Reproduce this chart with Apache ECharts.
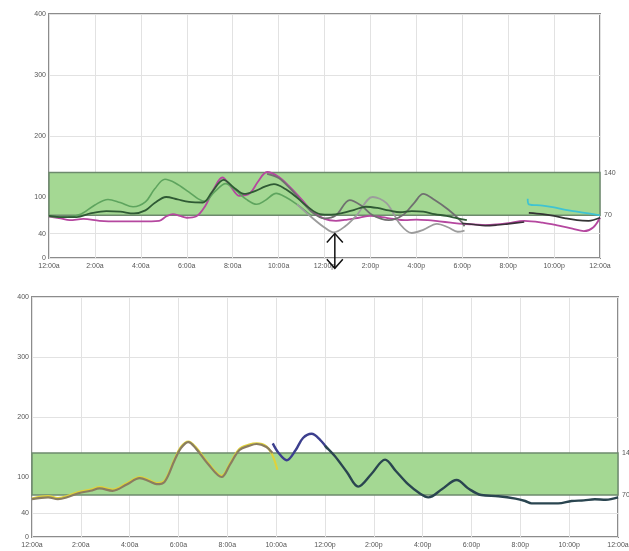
<!DOCTYPE html>
<html>
<head>
<meta charset="utf-8">
<script src="https://cdn.jsdelivr.net/npm/echarts@6/dist/echarts.min.js"></script>
<style>
html,body{margin:0;padding:0;background:#fff;}
#c{width:629px;height:551px;}
</style>
</head>
<body>
<div id="c"></div>
<script>
// ---- data ----
const hourLabels = ['12:00a','2:00a','4:00a','6:00a','8:00a','10:00a','12:00p','2:00p','4:00p','6:00p','8:00p','10:00p','12:00a'];
const yTicks = [0, 40, 100, 200, 300, 400];
const targetLow = 70;
const targetHigh = 140;
const arrowHour = 12.45;
const arrowRange = [40, -17];

const topPink = [[0,68],[0.5,65],[0.9,62],[1.5,64],[2.2,61],[3,60],[4,60],[4.8,61],[5.1,68],[5.4,72],[5.7,69],[6,66],[6.4,68],[6.8,85],[7.2,115],[7.55,132],[7.9,118],[8.3,102],[8.75,106],[9.1,125],[9.5,141],[10,133],[10.5,116],[11,96],[11.5,76],[12,64],[12.5,61],[13,63],[13.5,66],[14,69],[14.5,67],[15,64],[15.5,62],[16,63],[16.5,62],[17,60],[17.5,58],[18,56],[18.5,55],[19,54],[19.5,55],[20,57],[20.7,61],[21.5,58],[22.2,53],[22.8,48],[23.3,44],[23.7,50],[24,66]];
const topDarkGreen = [[0,69],[0.6,67],[1.2,67],[1.8,73],[2.5,77],[3.1,76],[3.7,73],[4.2,78],[4.6,90],[5.1,100],[5.6,96],[6.1,92],[6.7,91],[7.1,108],[7.6,128],[8.1,114],[8.5,105],[9,110],[9.4,117],[9.8,121],[10.3,113],[10.8,99],[11.3,83],[11.8,72],[12.3,71],[12.8,74],[13.3,79],[13.8,84],[14.3,82],[14.8,78],[15.3,75],[15.8,77],[16.3,76],[16.8,72],[17.3,69],[17.8,65],[18.2,62]];
const topGreen = [[0,68],[0.8,67],[1.4,72],[2,87],[2.57,96],[3.1,91],[3.66,84],[4.2,92],[4.6,113],[5.05,129],[5.5,123],[6.1,108],[6.5,97],[6.8,93],[7.2,108],[7.7,122],[8.1,112],[8.6,96],[9.05,88],[9.4,94],[9.9,106],[10.3,100],[10.8,88],[11.4,70]];
const topLightGray = [[10.8,88],[11.4,68],[12,50],[12.4,42],[12.9,52],[13.4,70],[14.1,100],[14.7,90],[15.3,55],[15.8,41],[16.3,46],[16.9,56],[17.4,50],[17.8,43],[18.1,45]];
const topDarkGray = [[9.5,138],[10,131],[10.5,114],[11,93],[11.5,74],[12,65],[12.5,70],[13.1,95],[13.6,86],[14.1,70],[14.8,62],[15.4,70],[15.9,90],[16.3,105],[16.8,95],[17.4,79],[17.9,62],[18.1,52]];
const topEvening = [[18,57],[18.5,55],[19,53],[19.5,54],[20,56],[20.7,59]];
const topCyan = [[20.85,97],[20.9,88],[21.5,86],[22,83],[22.5,79],[23,76],[23.5,73],[24,70]];
const topBlack = [[20.9,74],[21.5,72],[22,69],[22.5,65],[23,62],[23.5,61],[24,66]];

const bottomYellow = [[0,64],[0.66,68],[1.06,65],[1.5,69],[1.9,75],[2.4,79],[2.77,83],[3.3,79],[3.9,90],[4.41,100],[4.8,95],[5.1,90],[5.43,94],[5.84,130],[6.1,150],[6.4,159],[6.7,150],[7.2,124],[7.77,102],[8.1,122],[8.5,147],[8.9,154],[9.2,156],[9.6,151],[9.85,136],[10.05,112]];
const bottomTan = [[0,63],[0.66,66],[1.06,63],[1.5,67],[1.9,73],[2.4,77],[2.77,81],[3.3,77],[3.9,88],[4.41,98],[4.8,93],[5.1,88],[5.43,92],[5.84,128],[6.1,148],[6.4,158],[6.7,148],[7.2,122],[7.77,100],[8.1,120],[8.5,145],[8.9,152],[9.2,155],[9.6,150],[9.85,140]];
const bottomNavy = [[9.86,156],[10.1,140],[10.43,128],[10.8,145],[11.1,165],[11.45,172],[11.8,162],[12.1,147]];
const bottomDark = [[12.0,152],[12.4,135],[12.9,108],[13.36,84],[13.9,105],[14.46,129],[14.9,110],[15.4,88],[15.9,72],[16.23,66],[16.8,80],[17.39,95],[17.9,80],[18.4,70],[19.1,68],[19.8,64],[20.2,60],[20.46,56],[21,56],[21.55,56],[22.1,60],[22.6,61],[23.05,63],[23.5,62],[24,66]];

// ---- chart ----
const chart = echarts.init(document.getElementById('c'), null, {renderer: 'canvas'});
const labelStyle = {color: '#555', fontSize: 7, fontFamily: 'Liberation Sans, Arial, sans-serif'};

function xAxis(gi) {
  return {
    type: 'value', gridIndex: gi, min: 0, max: 24, interval: 2,
    axisLine: {show: false}, axisTick: {show: false},
    splitLine: {show: true, lineStyle: {color: '#e2e2e2', width: 1}},
    axisLabel: Object.assign({margin: 5, formatter: v => hourLabels[Math.round(v / 2)]}, labelStyle)
  };
}
function yAxisLeft(gi) {
  return {
    type: 'value', gridIndex: gi, min: 0, max: 400, position: 'left',
    axisLine: {show: false},
    axisTick: {show: false, customValues: yTicks},
    splitLine: {show: true, lineStyle: {color: '#e2e2e2', width: 1}},
    axisLabel: Object.assign({margin: 3, customValues: yTicks}, labelStyle)
  };
}
function yAxisRight(gi) {
  return {
    type: 'value', gridIndex: gi, min: 0, max: 400, position: 'right',
    axisLine: {show: false}, axisTick: {show: false, customValues: [targetLow, targetHigh]},
    splitLine: {show: false},
    axisLabel: Object.assign({margin: 4, customValues: [targetLow, targetHigh]}, labelStyle)
  };
}
function line(data, color, width, xi, yi, extra) {
  return Object.assign({
    type: 'line', data: data, xAxisIndex: xi, yAxisIndex: yi,
    smooth: 0.35, symbol: 'none', silent: true,
    lineStyle: {color: color, width: width}
  }, extra || {});
}
function band() {
  return {
    silent: true,
    itemStyle: {color: '#a4d893', borderColor: '#6d8a6d', borderWidth: 1.5},
    data: [[{yAxis: targetLow}, {yAxis: targetHigh}]]
  };
}

const option = {
  animation: false,
  backgroundColor: '#ffffff',
  grid: [
    {left: 49, top: 14, right: 29, bottom: 293, outerBoundsMode: 'none', containLabel: false, show: true, borderColor: '#8c8c8c', borderWidth: 2, backgroundColor: 'transparent'},
    {left: 32, top: 297, right: 11, bottom: 14, outerBoundsMode: 'none', containLabel: false, show: true, borderColor: '#8c8c8c', borderWidth: 2, backgroundColor: 'transparent'}
  ],
  xAxis: [xAxis(0), xAxis(1)],
  yAxis: [yAxisLeft(0), yAxisRight(0), yAxisLeft(1), yAxisRight(1)],
  series: [
    line(topPink, '#b5479f', 1.8, 0, 0, {markArea: band(), z: 3}),
    line(topGreen, '#5ea45e', 1.6, 0, 0),
    line(topLightGray, '#9c9c9c', 1.8, 0, 0),
    line(topDarkGray, '#707070', 1.8, 0, 0),
    line(topDarkGreen, '#2f5a34', 1.8, 0, 0),
    line(topEvening, '#3a2f3a', 1.6, 0, 0),
    line(topCyan, '#3fc3d2', 1.8, 0, 0),
    line(topBlack, '#343434', 1.8, 0, 0),
    line(bottomYellow, '#e0d23a', 2.2, 1, 2, {markArea: band()}),
    line(bottomTan, '#8a7d60', 2.2, 1, 2),
    line(bottomNavy, '#3c3f8e', 2.4, 1, 2),
    line(bottomDark, '#2a4550', 2.4, 1, 2)
  ]
};
chart.setOption(option);

// double-headed annotation arrow placed via data->pixel conversion
const pTop = chart.convertToPixel({gridIndex: 0}, [arrowHour, arrowRange[0]]);
const pBot = chart.convertToPixel({gridIndex: 0}, [arrowHour, arrowRange[1]]);
const hw = 8, hh = 9;
const st = {stroke: '#111', lineWidth: 1.5, fill: null};
chart.setOption({
  graphic: [
    {type: 'polyline', shape: {points: [pTop, pBot]}, style: st, z: 100},
    {type: 'polyline', shape: {points: [[pTop[0] - hw, pTop[1] + hh], pTop, [pTop[0] + hw, pTop[1] + hh]]}, style: st, z: 100},
    {type: 'polyline', shape: {points: [[pBot[0] - hw, pBot[1] - hh], pBot, [pBot[0] + hw, pBot[1] - hh]]}, style: st, z: 100}
  ]
});
</script>
</body>
</html>
